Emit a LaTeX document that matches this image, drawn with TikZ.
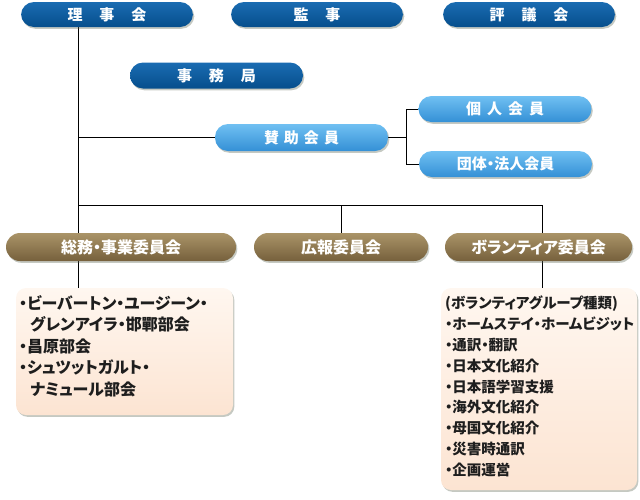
\documentclass[tikz,border=0pt]{standalone}
\usepackage{fontspec}
\newfontfamily\jp{Noto Sans CJK JP}[RawFeature=+palt]
\usetikzlibrary{shadows}
\pgfdeclarelayer{bg}\pgfsetlayers{bg,main}
\definecolor{dbT}{RGB}{26,108,178}
\definecolor{dbB}{RGB}{6,78,140}
\definecolor{lbT}{RGB}{112,192,242}
\definecolor{lbB}{RGB}{52,144,214}
\definecolor{brT}{RGB}{170,148,104}
\definecolor{brB}{RGB}{118,96,60}
\definecolor{pcT}{RGB}{255,247,240}
\definecolor{pcB}{RGB}{252,228,210}
\definecolor{shd}{RGB}{90,100,80}
\definecolor{txt}{RGB}{30,30,30}
\begin{document}
\begin{tikzpicture}[x=1pt,y=-1pt,
  shadowed/.style={drop shadow={shadow xshift=1.3pt,shadow yshift=-1.8pt,opacity=0.35,fill=shd}},
  pill/.style={shadowed,rounded corners=13pt,inner sep=0pt,text=white,
    font=\jp\bfseries\fontsize{15}{17}\selectfont},
  dark/.style={pill,top color=dbT,bottom color=dbB,minimum width=172pt,minimum height=25pt},
  light/.style={pill,top color=lbT,bottom color=lbB,minimum width=173pt,minimum height=26pt},
  brown/.style={pill,top color=brT,bottom color=brB,minimum height=28pt,rounded corners=14pt,
    font=\jp\bfseries\fontsize{16}{18}\selectfont},
  detail/.style={shadowed,rounded corners=10pt,top color=pcT,bottom color=pcB,inner sep=0pt},
  dtext/.style={anchor=north west,align=left,text=txt,inner sep=0pt},
  conn/.style={draw=black,line width=0.9pt}
]
\useasboundingbox (0,0) rectangle (640,499);

% top row
\node[dark] (riji) at (107,14.5) {理\hspace{17pt}事\hspace{17pt}会};
\node[dark] (kanji) at (317,14.5) {監\hspace{17pt}事};
\node[dark] (hyogi) at (529,14.5) {評\hspace{17pt}議\hspace{17pt}会};
\node[dark,minimum width=173pt,minimum height=26pt] (jimu) at (216.5,75.5) {事\hspace{17pt}務\hspace{17pt}局};

% supporting members
\node[light,minimum height=27pt] (sanjo) at (301.5,137.5) {賛\hspace{5pt}助\hspace{5pt}会\hspace{5pt}員};
\node[light] (kojin) at (505,109) {個\hspace{6pt}人\hspace{6pt}会\hspace{6pt}員};
\node[light] (dantai) at (505.5,164) {団体・法人会員};

% committees
\node[brown,minimum width=230pt] (somu) at (121,247) {総務・事業委員会};
\node[brown,minimum width=174pt] (koho) at (341,247) {広報委員会};
\node[brown,minimum width=187pt] (vol) at (538.5,247) {ボランティア委員会};

% detail boxes
\node[detail,minimum width=217pt,minimum height=127pt] (lbox) at (124.5,351.5) {};
\node[detail,minimum width=196pt,minimum height=202pt] (rbox) at (539,389) {};

\node[dtext,font=\jp\bfseries\fontsize{16}{21.6}\selectfont] (ltxt) at (19,295)
 {・ビーバートン・ユージーン・\\
  \hspace{11pt}グレンアイラ・邯鄲部会\\
  ・昌原部会\\
  ・シュツットガルト・\\
  \hspace{11pt}ナミュール部会};
\node[dtext,font=\jp\bfseries\fontsize{14.5}{20.8}\selectfont] (rtxt) at (445,296)
 {(ボランティアグループ種類)\\
  ・ホームステイ・ホームビジット\\
  ・通訳・翻訳\\
  ・日本文化紹介\\
  ・日本語学習支援\\
  ・海外文化紹介\\
  ・母国文化紹介\\
  ・災害時通訳\\
  ・企画運営};

% connectors
\coordinate (trunk) at (78,0);
\coordinate (brk) at (406,0);
\coordinate (bus) at (0,205);
\coordinate (volx) at (542,0);
\begin{pgfonlayer}{bg}
\draw[conn] (riji.center -| trunk) -- (lbox.north -| trunk);
\draw[conn] (sanjo.west -| trunk) -- (sanjo.west);
\draw[conn] (sanjo.east) -- (sanjo.east -| brk);
\draw[conn] (kojin.west) -- (kojin.west -| brk) -- (dantai.west -| brk) -- (dantai.west);
\draw[conn] (bus -| trunk) -- (bus -| volx) -- (vol.north -| volx);
\draw[conn] (bus -| koho) -- (koho.north);
\draw[conn] (vol.south -| volx) -- (rbox.north -| volx);
\end{pgfonlayer}
\end{tikzpicture}
\end{document}
